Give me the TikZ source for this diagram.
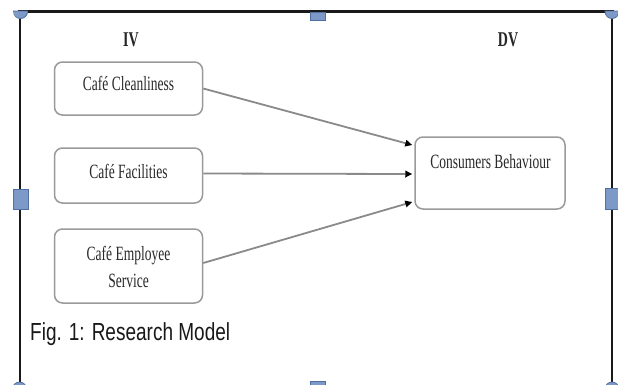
\documentclass[tikz,border=0pt]{standalone}
\usepackage{fontspec}
\setmainfont{Liberation Serif}
\newfontfamily\capfont{Liberation Sans}
\usetikzlibrary{arrows.meta,calc}
\definecolor{handle}{HTML}{7D99C8}
\definecolor{handleb}{HTML}{4F6FA0}
\definecolor{boxline}{HTML}{9A9A9A}
\definecolor{arrline}{HTML}{8A8A8A}
\definecolor{txt}{HTML}{2A2A2A}
\newcommand{\tallA}[1]{\scalebox{1}[1.5]{#1}}
\newcommand{\tallB}[1]{\scalebox{1}[1.3]{#1}}
\begin{document}
\begin{tikzpicture}[x=1pt,y=-1pt,
  varbox/.style={draw=boxline,line width=1.5pt,rounded corners=8pt,fill=white,inner sep=0pt},
  boxtext/.style={text=txt,font=\fontsize{13.5}{27}\selectfont,align=center,inner sep=0pt,anchor=base},
  headtext/.style={text=black!85,font=\fontsize{14}{16}\selectfont\bfseries,inner sep=0pt,anchor=base},
  link/.style={draw=arrline,line width=1.8pt,-{Triangle[length=7pt,width=6.5pt,color=black]}},
  hsq/.style={fill=handle,draw=handleb,line width=0.8pt},
  frame/.style={draw=black!90,line cap=rect}
]
\useasboundingbox (0,0) rectangle (618,384);
\fill[white] (0,0) rectangle (618,384);
% frame
\draw[frame,line width=2pt] (19.5,11) -- (19.5,390);
\draw[frame,line width=2pt] (612,11) -- (612,390);
\draw[frame,line width=3pt] (19.5,11) -- (612,11);
% handles
\filldraw[hsq] (13.5,11) -- (27.5,11) .. controls (27.5,21) and (13.5,21) .. cycle;
\filldraw[hsq] (605,11) -- (619,11) .. controls (619,21) and (605,21) .. cycle;
\filldraw[hsq] (310,12) rectangle (325,20);
\filldraw[hsq] (13,189) rectangle (28,209);
\filldraw[hsq] (605,188) rectangle (621,209);
\filldraw[hsq] (310,381) rectangle (325,392);
\filldraw[hsq] (19.5,389) circle (7);
\filldraw[hsq] (612,389) circle (7);
% headings
\node[headtext] (iv) at (131,46) {\tallA{IV}};
\node[headtext] (dv) at (508,46) {\tallA{DV}};
% boxes
\node[varbox,minimum width=148pt,minimum height=53pt] (cl) at (128.5,88.5) {};
\node[varbox,minimum width=148pt,minimum height=55pt] (fa) at (128.5,175.5) {};
\node[varbox,minimum width=148pt,minimum height=74pt] (em) at (128.5,266) {};
\node[varbox,minimum width=150pt,minimum height=72pt] (cb) at (490,173) {};
% box texts
\node[boxtext] (clt) at (128.5,90.5) {\tallA{Café Cleanliness}};
\node[boxtext] (fat) at (128.5,178) {\tallA{Café Facilities}};
\node[boxtext] (emt1) at (128.5,260) {\tallA{Café Employee}};
\node[boxtext] (emt2) at (128.5,287) {\tallA{Service}};
\node[boxtext] (cbt) at (490.5,168) {\tallA{Consumers Behaviour}};
% connectors
\draw[link] (cl.east) -- ($(cb.west)+(-2,-28)$);
\draw[link] ($(fa.east)+(0,-2)$) -- ($(cb.west)+(-2,1)$);
\draw[link] ($(em.east)+(0,-3)$) -- ($(cb.west)+(-2,29)$);
% caption
\node[anchor=base west,inner sep=0pt,text=black!90,font=\capfont\fontsize{19}{22}\selectfont] (cap) at (30,340) {\tallB{Fig. 1: Research Model}};
\end{tikzpicture}
\end{document}
